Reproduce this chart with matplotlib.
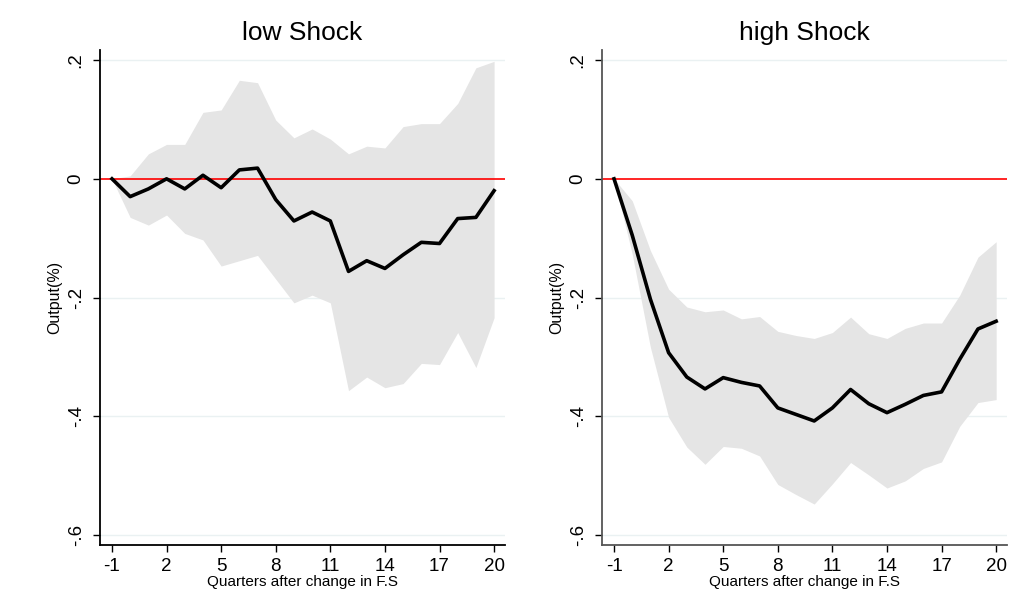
import matplotlib.pyplot as plt

# quarters after the change
quarters = list(range(-1, 21))

# low shock: point estimate and confidence band
low_irf = [0, -0.030, -0.017, 0, -0.017, 0.006, -0.015, 0.015, 0.018, -0.035, -0.071,
           -0.056, -0.071, -0.156, -0.138, -0.151, -0.128, -0.107, -0.109, -0.067,
           -0.065, -0.020]
low_upper = [0, 0.005, 0.042, 0.058, 0.058, 0.112, 0.116, 0.166, 0.162, 0.099, 0.069,
             0.084, 0.067, 0.042, 0.055, 0.052, 0.088, 0.093, 0.093, 0.127, 0.187, 0.198]
low_lower = [0, -0.065, -0.078, -0.061, -0.092, -0.103, -0.147, -0.138, -0.129, -0.169,
             -0.209, -0.196, -0.209, -0.357, -0.334, -0.352, -0.345, -0.311, -0.313,
             -0.259, -0.318, -0.234]

# high shock: point estimate and confidence band
high_irf = [0, -0.095, -0.203, -0.293, -0.334, -0.354, -0.335, -0.343, -0.349, -0.386,
            -0.397, -0.408, -0.386, -0.355, -0.379, -0.394, -0.380, -0.365, -0.359,
            -0.304, -0.253, -0.240]
high_upper = [0, -0.037, -0.121, -0.186, -0.216, -0.224, -0.221, -0.236, -0.232, -0.257,
              -0.264, -0.269, -0.259, -0.233, -0.261, -0.269, -0.252, -0.243, -0.243,
              -0.196, -0.132, -0.106]
high_lower = [0, -0.127, -0.284, -0.402, -0.452, -0.481, -0.451, -0.454, -0.467, -0.515,
              -0.532, -0.548, -0.514, -0.478, -0.499, -0.521, -0.509, -0.488, -0.477,
              -0.417, -0.377, -0.372]

xticks = [-1, 2, 5, 8, 11, 14, 17, 20]
xlabels = ["-1", "2", "5", "8", "11", "14", "17", "20"]
yticks = [0.2, 0, -0.2, -0.4, -0.6]
ylabels = [".2", "0", "-.2", "-.4", "-.6"]

plt.rcParams['font.family'] = ['Liberation Sans', 'DejaVu Sans']

fig = plt.figure(figsize=(10.19, 5.97), dpi=100)
ax1 = fig.add_axes([0.0981, 0.0871, 0.3975, 0.8291])
ax2 = fig.add_axes([0.5908, 0.0871, 0.3975, 0.8291])


def panel(ax, title, irf, upper, lower, spine_col):
    ax.fill_between(quarters, lower, upper, color="#e5e5e5", linewidth=0, zorder=1)
    for t in [-0.6, -0.4, -0.2, 0.2]:
        ax.axhline(t, color="#eaf1f2", linewidth=1, zorder=0)
    ax.axhline(0, color="#ff0000", linewidth=1.2, zorder=2)
    ax.plot(quarters, irf, color="black", linewidth=2.6, zorder=3)

    ax.set_xlim(-1.66, 20.6)
    ax.set_ylim(-0.617, 0.217)
    ax.set_xticks(xticks)
    ax.set_xticklabels(xlabels)
    ax.set_yticks(yticks)
    ax.set_yticklabels(ylabels, rotation=90, va="center")
    ax.tick_params(axis="both", direction="out", length=5, width=1, labelsize=13.5,
                   colors="black")
    ax.tick_params(axis="x", pad=4)
    ax.tick_params(axis="y", pad=6)

    for s in ["top", "right"]:
        ax.spines[s].set_visible(False)
    for s in ["left", "bottom"]:
        ax.spines[s].set_color(spine_col)
        ax.spines[s].set_linewidth(1.3)

    ax.set_title(title, fontsize=19, pad=7)
    ax.set_xlabel("Quarters after change in F.S", fontsize=11, labelpad=0)
    ax.set_ylabel("Output(%)", fontsize=11.5, labelpad=4)


panel(ax1, "low Shock", low_irf, low_upper, low_lower, "black")
panel(ax2, "high Shock", high_irf, high_upper, high_lower, "#555555")

fig.savefig("out.png", dpi=100, facecolor="white")
